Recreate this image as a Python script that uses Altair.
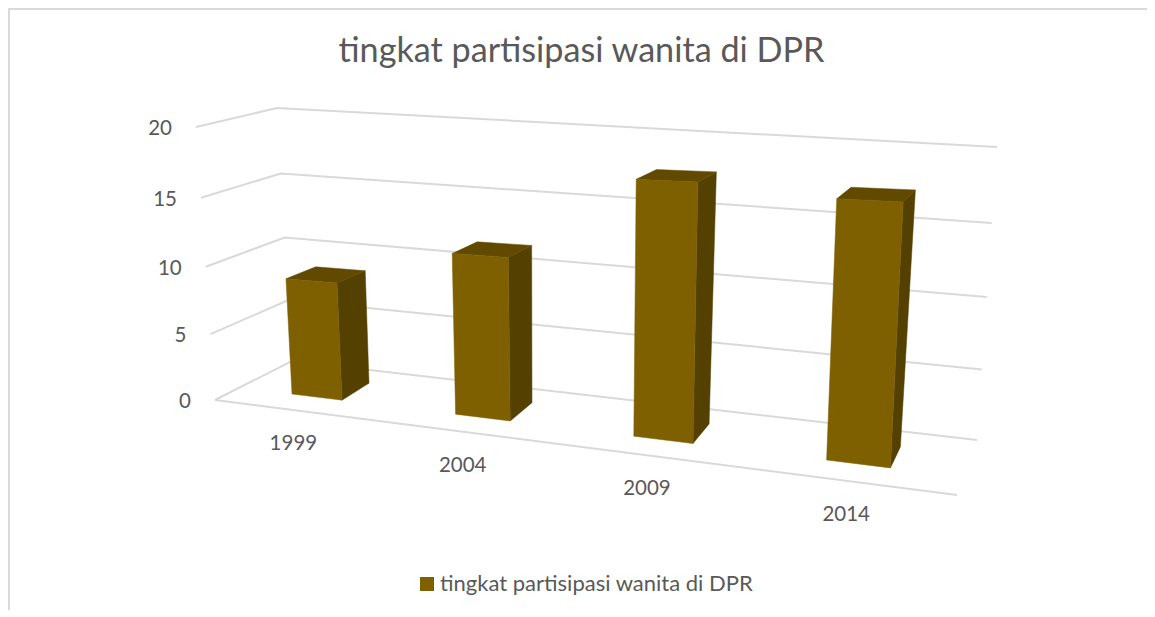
import altair as alt
import pandas as pd

# ---- chart content ----
years = ["1999", "2004", "2009", "2014"]
values = [9.0, 11.9, 18.0, 17.3]
ticks = [0, 5, 10, 15, 20]
series_name = "tingkat partisipasi wanita di DPR"

FONT = "Lato"
TEXT = "#595959"
GRID = "#d9d9d9"
FRONT, SIDE, TOP = "#7f6000", "#544000", "#614a00"

# ---- oblique projection of the Excel 3-D box onto the page ----
VMAX = 20.0
def lerp(a, b, t):
    return a + (b - a) * t

def wall(a0, a20, v):
    t = v / VMAX
    t = t - 0.048 * t * (1 - t)
    return (lerp(a0[0], a20[0], t), lerp(a0[1], a20[1], t))

def left_front(v):
    return wall((215, 400), (196, 127), v)
def left_back(v):
    return wall((292, 361), (277, 108), v)
def right_back(v):
    return wall((977, 440), (997, 147), v)

def project(x0, depth, v):
    """x0: position along the bar plane, depth: 0 front .. 1 back, v: value."""
    px = x0 + (-0.67 + 0.00235 * (x0 - 292)) * v
    py = 394 + 0.1235 * (x0 - 292) - (12.8 + 0.0043 * (x0 - 292)) * v
    ox = 27 - 0.031 * (x0 - 342) + 0.13 * v
    oy = -17 - 0.0073 * (x0 - 342) + 0.52 * v
    return (px + ox * depth, py + oy * depth)

def slot(i):
    left = 292 + 156.3 * i + 7.3 * i * i
    return left, left + 50 + 4.6 * i

def hull_rows(points, bar):
    """Upper and lower outline of a convex face, per x, for an area mark."""
    xs = sorted({p[0] for p in points})
    rows = []
    n = len(points)
    for x in xs:
        hits = []
        for k in range(n):
            (x1, y1), (x2, y2) = points[k], points[(k + 1) % n]
            if min(x1, x2) <= x <= max(x1, x2):
                if x1 == x2:
                    hits += [y1, y2]
                else:
                    hits.append(y1 + (y2 - y1) * (x - x1) / (x2 - x1))
        rows.append({"bar": bar, "x": x, "y": min(hits), "y2": max(hits), "series": series_name})
    return rows

front_rows, side_rows, top_rows, label_rows = [], [], [], []
for i, (yr, val) in enumerate(zip(years, values)):
    a, b = slot(i)
    front_rows += hull_rows([project(a, 0, 0), project(b, 0, 0), project(b, 0, val), project(a, 0, val)], yr)
    side_rows += hull_rows([project(b, 0, 0), project(b, 1, 0), project(b, 1, val), project(b, 0, val)], yr)
    top_rows += hull_rows([project(a, 0, val), project(b, 0, val), project(b, 1, val), project(a, 1, val)], yr)
    lx, ly = project((a + b) / 2, -0.85, 0)
    label_rows.append({"x": lx - 1.0 * i, "y": ly + 33, "t": yr})

grid_rows = []
for v in ticks:
    for p in (left_front(v), left_back(v), right_back(v)):
        grid_rows.append({"g": f"v{v}", "x": p[0], "y": p[1]})
for p in (left_front(0), (957, 495)):
    grid_rows.append({"g": "floor", "x": p[0], "y": p[1]})

tick_rows = [{"x": left_front(v)[0] - 24, "y": left_front(v)[1] + 2, "t": str(v)} for v in ticks]

# ---- scales: plot area spans the page pixels below the title ----
PAD_TOP = 62
W, H = 1139, 540
xs = alt.Scale(domain=[8, 8 + W])
ys = alt.Scale(domain=[8 + PAD_TOP + H, 8 + PAD_TOP])
X = alt.X("x:Q", scale=xs, axis=None)
Y = alt.Y("y:Q", scale=ys, axis=None)
Y2 = alt.Y2("y2:Q")

border_left = alt.Chart(pd.DataFrame({"a": [0]})).mark_rule(color=GRID, strokeWidth=2).encode(
    x=alt.value(1), y=alt.value(-PAD_TOP), y2=alt.value(H))
border_top = alt.Chart(pd.DataFrame({"a": [0]})).mark_rule(color=GRID, strokeWidth=2).encode(
    y=alt.value(-PAD_TOP + 1), x=alt.value(0), x2=alt.value(W))

grid = alt.Chart(pd.DataFrame(grid_rows)).mark_line(color=GRID, strokeWidth=2).encode(
    x=X, y=Y, detail="g:N")

def face(rows, color):
    return alt.Chart(pd.DataFrame(rows)).mark_area(color=color, stroke=color, strokeWidth=0.5).encode(
        x=X, y=Y, y2=Y2, detail="bar:N")

front = alt.Chart(pd.DataFrame(front_rows)).mark_area(stroke=FRONT, strokeWidth=0.5).encode(
    x=X, y=Y, y2=Y2, detail="bar:N",
    color=alt.Color("series:N", scale=alt.Scale(domain=[series_name], range=[FRONT]), title=None,
                    legend=alt.Legend(orient="none", legendX=408, legendY=503, symbolType="square",
                                      symbolSize=196, symbolStrokeWidth=0, labelFont=FONT, labelFontSize=22,
                                      labelColor=TEXT, labelLimit=500, labelOffset=2)))

def labels(rows, align):
    return alt.Chart(pd.DataFrame(rows)).mark_text(font=FONT, fontSize=20.5, color=TEXT, align=align,
                                                   baseline="middle").encode(x=X, y=Y, text="t:N")

chart = alt.layer(
    border_left, border_top, grid, face(side_rows, SIDE), face(top_rows, TOP), front,
    labels(tick_rows, "right"), labels(label_rows, "center"),
).properties(
    width=W, height=H,
    title=alt.TitleParams(series_name, font=FONT, fontSize=34.2, fontWeight="normal", color=TEXT,
                          anchor="middle", dx=4, offset=-62),
    autosize=alt.AutoSizeParams(type="none"),
    padding={"left": 0, "top": PAD_TOP, "right": 0, "bottom": 0},
    background="white",
).configure_view(stroke=None)

chart.save("out.html", embed_options={"renderer": "svg", "actions": False})
